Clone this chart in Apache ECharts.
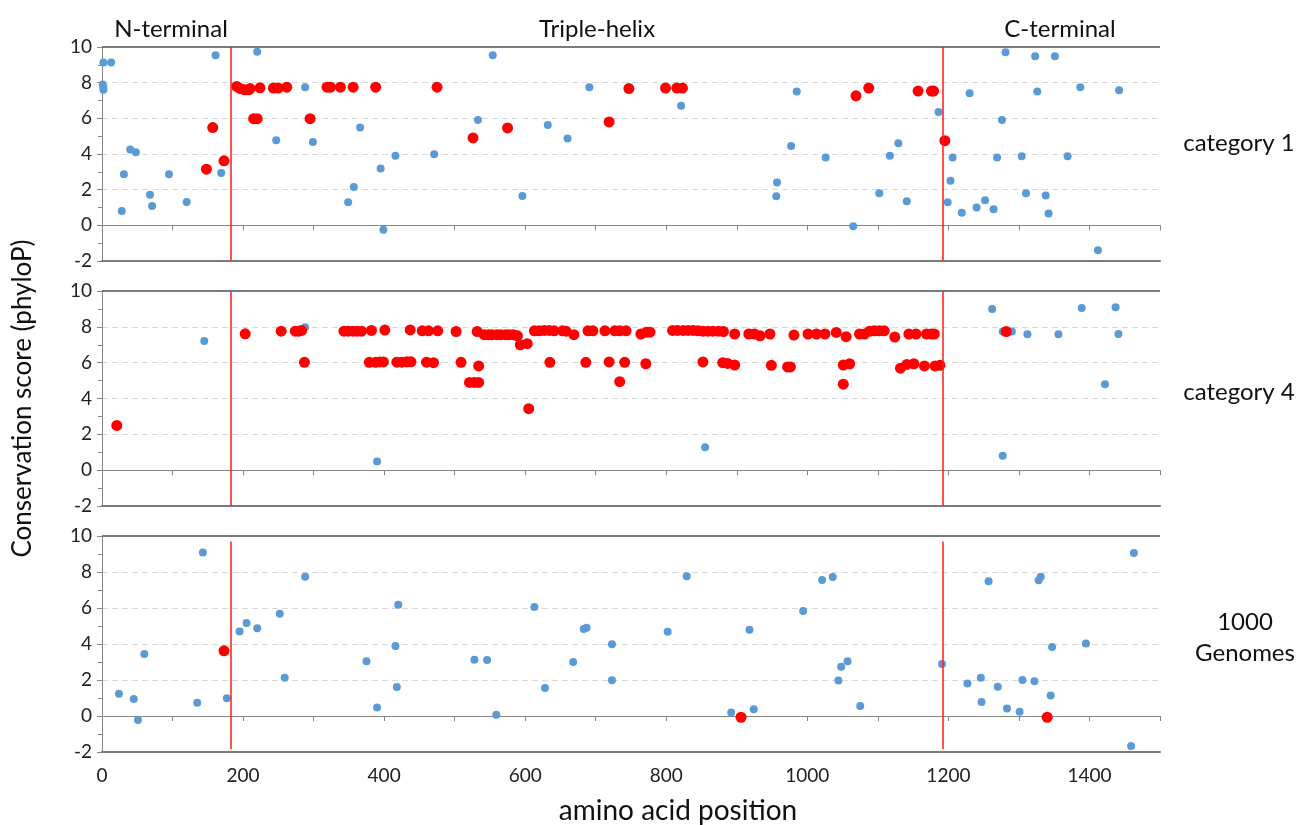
<!DOCTYPE html>
<html>
<head>
<meta charset="utf-8">
<script src="https://cdn.jsdelivr.net/npm/echarts@6/dist/echarts.min.js"></script>
<style>
html, body {margin: 0; padding: 0; background: #fff;}
#main {width: 1302px; height: 825px;}
</style>
</head>
<body>
<div id="main"></div>
<script>
// domain boundaries (amino acid position)
var boundaries = [183, 1192];
var regionNames = ['N-terminal', 'Triple-helix', 'C-terminal'];
var panelNames = ['category 1', 'category 4', '1000\nGenomes'];
var xTicks = [0, 200, 400, 600, 800, 1000, 1200, 1400];

// [position, phyloP]
var cat1Blue = [[2,9.13],[13,9.13],[1,7.9],[2,7.75],[2,7.6],[28,0.8],[31,2.87],[40,4.25],[48,4.1],[68,1.71],[71,1.08],[95,2.87],[120,1.31],[161,9.54],[169,2.94],[220,9.73],[247,4.77],[288,7.75],[299,4.67],[349,1.29],[357,2.15],[366,5.48],[395,3.19],[399,-0.25],[416,3.9],[471,3.98],[533,5.9],[554,9.54],[596,1.65],[632,5.62],[660,4.87],[691,7.75],[821,6.7],[985,7.5],[977,4.45],[1026,3.8],[957,2.4],[956,1.63],[1065,-0.05],[1102,1.8],[1129,4.6],[1117,3.9],[1141,1.35],[1186,6.36],[1199,1.3],[1203,2.5],[1206,3.8],[1219,0.7],[1230,7.4],[1240,1.0],[1252,1.4],[1264,0.9],[1269,3.8],[1276,5.9],[1281,9.7],[1304,3.87],[1310,1.8],[1323,9.48],[1326,7.5],[1338,1.67],[1342,0.67],[1351,9.48],[1369,3.87],[1387,7.74],[1412,-1.4],[1442,7.57]];
var cat1Red = [[148,3.15],[157,5.48],[173,3.62],[191,7.79],[196,7.67],[202,7.6],[208,7.6],[210,7.67],[215,5.98],[220,5.98],[224,7.71],[243,7.7],[250,7.7],[262,7.75],[295,5.98],[319,7.75],[324,7.75],[338,7.75],[356,7.75],[388,7.75],[475,7.75],[526,4.9],[575,5.46],[719,5.8],[747,7.67],[799,7.7],[815,7.7],[823,7.7],[1069,7.26],[1087,7.7],[1157,7.53],[1176,7.53],[1179,7.53],[1195,4.75]];

var cat4Blue = [[145,7.21],[288,7.98],[390,0.48],[855,1.28],[1262,8.99],[1277,7.74],[1290,7.74],[1277,0.8],[1312,7.58],[1356,7.58],[1389,9.05],[1437,9.1],[1422,4.79],[1441,7.6]];
var cat4Red = [[21,2.5],[203,7.61],[254,7.76],[274,7.76],[279,7.76],[283,7.8],[343,7.76],[349,7.76],[356,7.76],[362,7.76],[368,7.76],[382,7.8],[401,7.82],[437,7.83],[454,7.78],[463,7.78],[476,7.78],[502,7.74],[532,7.74],
	[542,7.56],[548,7.56],[553,7.56],[560,7.56],[565,7.56],[572,7.56],[577,7.56],[583,7.56],[589,7.5],[593,7.0],[603,7.06],
	[613,7.78],[620,7.78],[627,7.8],[634,7.8],[641,7.78],[653,7.78],[658,7.76],[669,7.56],[689,7.78],[696,7.78],[713,7.78],[727,7.78],[734,7.78],[743,7.78],[764,7.6],[772,7.7],[777,7.7],
	[809,7.8],[816,7.8],[824,7.8],[831,7.8],[838,7.8],[845,7.78],[852,7.76],[859,7.76],[866,7.76],[874,7.76],[881,7.74],[897,7.6],[917,7.6],[925,7.6],[933,7.5],[947,7.6],[981,7.54],[1001,7.6],[1013,7.6],[1025,7.6],[1041,7.69],[1055,7.45],[1074,7.6],[1081,7.6],[1088,7.75],[1095,7.78],[1102,7.78],[1109,7.78],[1124,7.43],[1144,7.6],[1154,7.6],[1169,7.6],[1176,7.6],[1180,7.6],[1282,7.74],
	[287,6.02],[379,6.02],[388,6.02],[394,6.04],[399,6.04],[418,6.03],[425,6.03],[432,6.05],[438,6.05],[460,6.03],[470,6.0],[509,6.02],[534,5.82],[635,6.02],[686,6.02],[719,6.04],[741,6.02],[771,5.94],[852,6.04],[880,6.0],[887,5.96],[897,5.87],[949,5.85],[972,5.76],[976,5.76],[1051,5.87],[1060,5.94],[1132,5.69],[1141,5.9],[1151,5.94],[1166,5.82],[1181,5.82],[1188,5.85],
	[521,4.9],[528,4.9],[534,4.9],[734,4.94],[1051,4.8],[605,3.43]];

var g1000Blue = [[24,1.23],[45,0.94],[51,-0.22],[60,3.45],[135,0.74],[143,9.08],[177,0.98],[195,4.7],[205,5.17],[220,4.88],[252,5.68],[259,2.12],[288,7.74],[375,3.04],[390,0.47],[416,3.89],[418,1.61],[420,6.18],[528,3.13],[546,3.11],[559,0.07],[613,6.06],[628,1.56],[668,3.0],[683,4.83],[687,4.9],[723,3.98],[723,1.99],[802,4.68],[829,7.76],[892,0.2],[918,4.79],[924,0.38],[994,5.84],[1021,7.56],[1036,7.72],[1044,1.97],[1048,2.73],[1057,3.04],[1075,0.56],[1191,2.89],[1227,1.81],[1246,2.12],[1247,0.78],[1257,7.49],[1270,1.63],[1283,0.42],[1301,0.24],[1305,2.0],[1322,1.93],[1328,7.54],[1331,7.74],[1345,1.14],[1347,3.83],[1395,4.03],[1463,9.06],[1459,-1.66]];
var g1000Red = [[173,3.62],[906,-0.07],[1340,-0.07]];

var panels = [[cat1Blue, cat1Red], [cat4Blue, cat4Red], [g1000Blue, g1000Red]];
var gridTops = [47, 291, 536];
var gridHeights = [214, 215, 216];

var FONT = 'Lato, "Open Sans", sans-serif';
var axisGray = '#868686';

function build_option() {
	var grids = [], xAxes = [], yAxes = [], series = [];
	for (var i = 0; i < panels.length; i++) {
		grids.push({left: 102, right: 142, top: gridTops[i], height: gridHeights[i]});
		var last = (i == panels.length - 1);
		// bottom frame line (with labels on the last panel)
		xAxes.push({
			gridIndex: i, type: 'value', min: 0, max: 1500, interval: 200,
			position: 'bottom',
			axisLine: {onZero: false, lineStyle: {color: '#7a7a7a', width: 2}},
			axisTick: {show: false},
			splitLine: {show: false},
			axisLabel: {
				show: last, fontSize: 19, color: '#222', fontFamily: FONT, margin: 14,
				formatter: function (v) { return xTicks.indexOf(v) >= 0 ? String(v) : ''; }
			}
		});
		// zero line with ticks every 100
		xAxes.push({
			gridIndex: i, type: 'value', min: 0, max: 1500, interval: 100,
			position: 'top',
			axisLine: {onZero: true, lineStyle: {color: axisGray, width: 1}},
			axisTick: {show: true, inside: true, length: 5, lineStyle: {color: axisGray}},
			axisLabel: {show: false},
			splitLine: {show: false}
		});
		var y = {
			gridIndex: i, type: 'value', min: -2, max: 10, interval: 2,
			axisLine: {show: true, onZero: false, lineStyle: {color: axisGray, width: 1}},
			axisTick: {show: true, length: 5, lineStyle: {color: axisGray}},
			minorTick: {show: true, splitNumber: 2, length: 4, lineStyle: {color: axisGray}},
			axisLabel: {fontSize: 19, color: '#222', fontFamily: FONT, margin: 10},
			splitLine: {show: true, showMinLine: false, showMaxLine: false,
				lineStyle: {color: '#d9d9d9', type: [6, 4], width: 1}}
		};
		if (i == 1) {
			y.name = 'Conservation score (phyloP)';
			y.nameLocation = 'middle';
			y.nameGap = 66;
			y.nameTextStyle = {fontSize: 26, color: '#111', fontFamily: FONT};
		}
		yAxes.push(y);

		var red = {color: '#ff1a1a', width: 1.5, type: 'solid', opacity: 1};
		var lines = [{yAxis: 10, lineStyle: {color: '#7a7a7a', width: 2, type: 'solid', opacity: 1}}];
		for (var b = 0; b < boundaries.length; b++) {
			if (last) {
				lines.push([{coord: [boundaries[b], 9.7], lineStyle: red}, {coord: [boundaries[b], -1.85]}]);
			} else {
				lines.push({xAxis: boundaries[b], lineStyle: red});
			}
		}
		series.push({
			type: 'scatter', xAxisIndex: i * 2, yAxisIndex: i,
			data: panels[i][0], symbolSize: 8,
			itemStyle: {color: '#5b9bd5', opacity: 1},
			markLine: {
				silent: true, symbol: ['none', 'none'], label: {show: false},
				lineStyle: red,
				emphasis: {disabled: true},
				data: lines
			}
		});
		series.push({
			type: 'scatter', xAxisIndex: i * 2, yAxisIndex: i, z: 3,
			data: panels[i][1], symbolSize: 11,
			itemStyle: {color: '#ff0000', opacity: 1}
		});
	}

	var txt = {fontSize: 24, fontWeight: 'normal', color: '#111', fontFamily: FONT};
	var titles = [
		{text: regionNames[0], left: 166, top: 12, textAlign: 'center', textStyle: txt},
		{text: regionNames[1], left: 592, top: 12, textAlign: 'center', textStyle: txt},
		{text: regionNames[2], left: 1055, top: 12, textAlign: 'center', textStyle: txt},
		{text: panelNames[0], left: 1234, top: 126, textAlign: 'center', textStyle: txt},
		{text: panelNames[1], left: 1234, top: 375, textAlign: 'center', textStyle: txt},
		{text: panelNames[2], left: 1240, top: 602, textAlign: 'center',
			textStyle: Object.assign({}, txt, {lineHeight: 31})},
		{text: 'amino acid position', left: 673, top: 792, textAlign: 'center',
			textStyle: {fontSize: 28, fontWeight: 'normal', color: '#111', fontFamily: FONT}}
	];

	return {
		animation: false,
		backgroundColor: '#fff',
		title: titles,
		grid: grids,
		xAxis: xAxes,
		yAxis: yAxes,
		series: series
	};
}

var myChart = echarts.init(document.getElementById('main'));
myChart.setOption(build_option());
</script>
</body>
</html>
